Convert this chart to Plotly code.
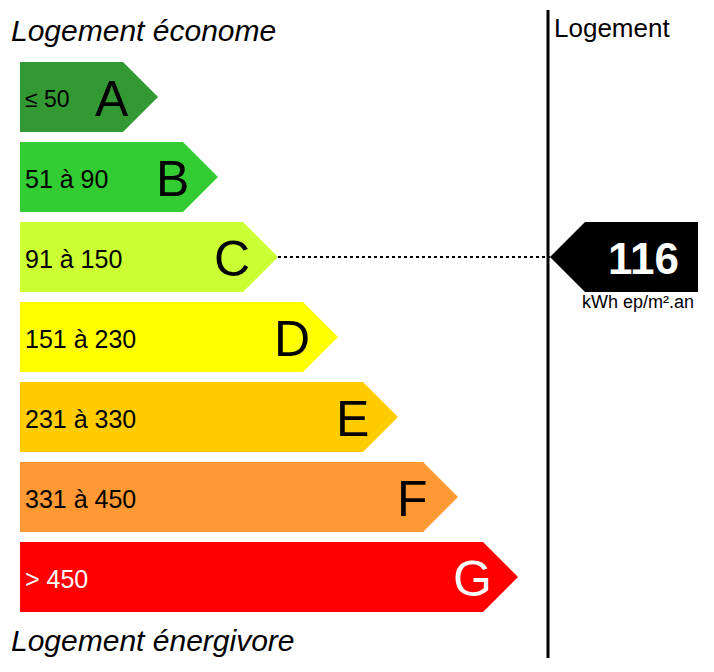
import plotly.graph_objects as go

classes = ["A", "B", "C", "D", "E", "F", "G"]
ranges = ["≤ 50", "51 à 90", "91 à 150", "151 à 230", "231 à 330", "331 à 450", "> 450"]
colors = ["#339933", "#33cc33", "#ccff33", "#ffff00", "#ffcc00", "#ff9933", "#ff0000"]
text_colors = ["black"] * 6 + ["white"]
value = 116
value_class = "C"

fig = go.Figure()
F = "Liberation Sans, Arial, sans-serif"
x0, h, step, tip0, dtip, depth = 20, 70, 80, 158, 60, 35
for i, c in enumerate(classes):
    top = 62 + i * step
    tip = tip0 + i * dtip
    re = tip - depth
    fig.add_trace(go.Scatter(x=[x0, re, tip, re, x0, x0], y=[top, top, top + h / 2, top + h, top + h, top],
                             fill="toself", fillcolor=colors[i], mode="lines", line=dict(width=0),
                             hoverinfo="skip", showlegend=False))
    fig.add_annotation(x=23, y=top + h / 2 + 2, text=ranges[i], showarrow=False, xanchor="left",
                       font=dict(family=F, size=25 if i else 23, color=text_colors[i]))
    fig.add_annotation(x=tip - 46, y=top + h / 2 + 2, text=c, showarrow=False,
                       font=dict(family=F, size=50, color=text_colors[i]))

ci = classes.index(value_class)
yc = 62 + ci * step + h / 2
fig.add_trace(go.Scatter(x=[tip0 + ci * dtip, 550], y=[yc, yc], mode="lines",
                         line=dict(color="black", width=2, dash="dot"), hoverinfo="skip", showlegend=False))
fig.add_trace(go.Scatter(x=[550, 585, 698, 698, 585, 550], y=[yc, yc - 35, yc - 35, yc + 35, yc + 35, yc],
                         fill="toself", fillcolor="black", mode="lines", line=dict(width=0),
                         hoverinfo="skip", showlegend=False))
fig.add_annotation(x=643, y=yc + 1, text=f"<b>{value}</b>", showarrow=False,
                   font=dict(family=F, size=44, color="white"))
fig.add_annotation(x=638, y=302, text="kWh ep/m².an", showarrow=False, font=dict(family=F, size=18, color="black"))
fig.add_trace(go.Scatter(x=[548, 548], y=[10, 658], mode="lines", line=dict(color="black", width=3),
                         hoverinfo="skip", showlegend=False))
fig.add_annotation(x=552, y=28, text="Logement", showarrow=False, xanchor="left",
                   font=dict(family=F, size=26, color="black"))
fig.add_annotation(x=9, y=30, text="<i>Logement économe</i>", showarrow=False, xanchor="left",
                   font=dict(family=F, size=30, color="black"))
fig.add_annotation(x=9, y=640, text="<i>Logement énergivore</i>", showarrow=False, xanchor="left",
                   font=dict(family=F, size=30, color="black"))

fig.update_layout(width=714, height=672, autosize=False, margin=dict(l=0, r=0, t=0, b=0),
                  paper_bgcolor="white", plot_bgcolor="white",
                  xaxis=dict(range=[8, 722], visible=False, fixedrange=True),
                  yaxis=dict(range=[680, 8], visible=False, fixedrange=True))
fig.write_html("out.html", config={"displayModeBar": False})
